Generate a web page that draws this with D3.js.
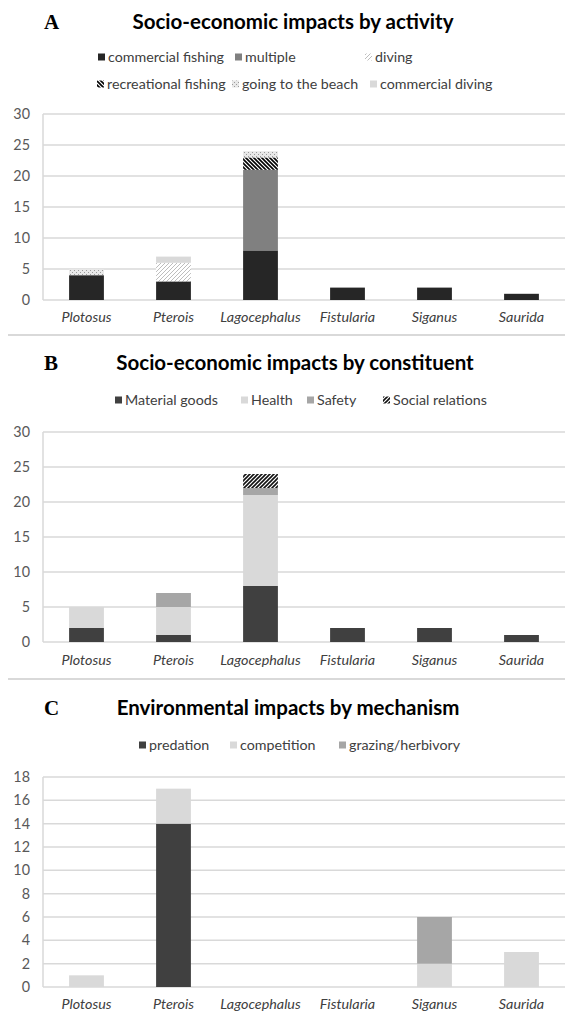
<!DOCTYPE html>
<html>
<head>
<meta charset="utf-8">
<script src="https://cdn.jsdelivr.net/npm/d3@7"></script>
<style>
  html, body { margin: 0; padding: 0; background: #fff; }
  svg { display: block; }
</style>
</head>
<body>
<div id="chart"></div>
<script>
// species on the x axis (same for all three panels)
var species = ['Plotosus', 'Pterois', 'Lagocephalus', 'Fistularia', 'Siganus', 'Saurida'];

// A - socio-economic impacts by activity
var activityKeys = ['commercial fishing', 'multiple', 'diving', 'recreational fishing', 'going to the beach', 'commercial diving'];
var commercialFishing   = [4, 3, 8, 2, 2, 1];
var multiple            = [0, 0, 13, 0, 0, 0];
var diving              = [0, 3, 0, 0, 0, 0];
var recreationalFishing = [0, 0, 2, 0, 0, 0];
var goingToTheBeach     = [1, 0, 1, 0, 0, 0];
var commercialDiving    = [0, 1, 0, 0, 0, 0];

// B - socio-economic impacts by constituent
var constituentKeys = ['Material goods', 'Health', 'Safety', 'Social relations'];
var materialGoods   = [2, 1, 8, 2, 2, 1];
var health          = [3, 4, 13, 0, 0, 0];
var safety          = [0, 2, 1, 0, 0, 0];
var socialRelations = [0, 0, 2, 0, 0, 0];

// C - environmental impacts by mechanism
var mechanismKeys = ['predation', 'competition', 'grazing/herbivory'];
var predation   = [0, 14, 0, 0, 0, 0];
var competition = [1, 3, 0, 0, 2, 3];
var grazing     = [0, 0, 0, 0, 4, 0];

var yTicksAB = [0, 5, 10, 15, 20, 25, 30];
var yTicksC  = [0, 2, 4, 6, 8, 10, 12, 14, 16, 18];

var width = 565, height = 1012;

var svg = d3.select('#chart').append('svg')
    .attr('width', width)
    .attr('height', height);

var sansFont = 'Lato, "Open Sans", "DejaVu Sans", sans-serif';

// find a font size so a sample string gets the width it has in the picture
function fitSize(sample, target, weight, style) {
    var t = svg.append('text')
        .attr('font-family', sansFont)
        .attr('font-weight', weight || 'normal')
        .attr('font-style', style || 'normal')
        .attr('font-size', 100)
        .text(sample);
    var w = t.node().getComputedTextLength();
    t.remove();
    return 100 * target / w;
}
var titleSize  = fitSize('Socio-economic impacts by activity', 321, 'bold');
var legendSize = fitSize('commercial fishing', 116);
var labelSize  = fitSize('Plotosus', 50, 'normal', 'italic');

// fill patterns like the Excel hatches
var defs = svg.append('defs');

function stripes(id, dir, color, sw, bg) {
    var p = defs.append('pattern')
        .attr('id', id)
        .attr('patternUnits', 'userSpaceOnUse')
        .attr('width', 4).attr('height', 4);
    p.append('rect').attr('width', 4).attr('height', 4).attr('fill', bg);
    var d = dir === 'up'
        ? 'M-1,1 l2,-2 M0,4 l4,-4 M3,5 l2,-2'
        : 'M-1,3 l2,2 M0,0 l4,4 M3,-1 l2,2';
    p.append('path').attr('d', d).attr('stroke', color).attr('stroke-width', sw);
}
stripes('pat-diving', 'up', '#bdbdbd', 1, '#fff');
stripes('pat-rec', 'down', '#000', 1.6, '#fff');
stripes('pat-social', 'up', '#111', 1.6, '#fff');

var dots = defs.append('pattern')
    .attr('id', 'pat-beach')
    .attr('patternUnits', 'userSpaceOnUse')
    .attr('width', 4).attr('height', 4);
dots.append('rect').attr('width', 4).attr('height', 4).attr('fill', '#e8e8e8');
dots.append('rect').attr('x', 0).attr('y', 0).attr('width', 1).attr('height', 1).attr('fill', '#9a9a9a');
dots.append('rect').attr('x', 2).attr('y', 2).attr('width', 1).attr('height', 1).attr('fill', '#9a9a9a');

function drawPanel(cfg) {
    var g = svg.append('g');

    // panel letter + title
    g.append('text')
        .attr('x', 44).attr('y', cfg.titleY)
        .attr('dy', '0.35em')
        .attr('font-family', '"Liberation Serif", "Times New Roman", serif')
        .attr('font-weight', 'bold')
        .attr('font-size', 21)
        .attr('fill', '#000')
        .text(cfg.letter);

    g.append('text')
        .attr('x', cfg.titleX).attr('y', cfg.titleY)
        .attr('dy', '0.35em')
        .attr('text-anchor', 'middle')
        .attr('font-family', sansFont)
        .attr('font-weight', 'bold')
        .attr('font-size', titleSize)
        .attr('fill', '#000')
        .text(cfg.title);

    // legend
    cfg.keys.forEach(function(k, i) {
        var pos = cfg.legendPos[i];
        g.append('rect')
            .attr('x', pos[0]).attr('y', pos[1] - 3.5)
            .attr('width', 7).attr('height', 7)
            .attr('fill', cfg.fills[i]);
        g.append('text')
            .attr('x', pos[0] + 10).attr('y', pos[1])
            .attr('dy', '0.35em')
            .attr('font-family', sansFont)
            .attr('font-size', legendSize)
            .attr('fill', '#404040')
            .text(k);
    });

    var x = d3.scaleBand()
        .domain(species)
        .range([43, 565])
        .paddingInner(0.6)
        .paddingOuter(0.3);

    var y = d3.scaleLinear()
        .domain([0, cfg.yMax])
        .range([cfg.plotBottom, cfg.plotTop]);

    // gridlines
    g.append('g').selectAll('line')
        .data(cfg.ticks)
        .enter().append('line')
        .attr('x1', 43).attr('x2', 565)
        .attr('y1', function(d) { return y(d); })
        .attr('y2', function(d) { return y(d); })
        .attr('stroke', '#d9d9d9')
        .attr('stroke-width', 1.5);

    g.append('line')
        .attr('x1', 43).attr('x2', 43)
        .attr('y1', y(cfg.yMax)).attr('y2', y(0))
        .attr('stroke', '#d9d9d9')
        .attr('stroke-width', 1.5);

    // y tick labels
    var yAxis = d3.axisLeft(y).tickValues(cfg.ticks).tickSize(0).tickPadding(13);
    var ya = g.append('g').attr('transform', 'translate(43,0)').call(yAxis);
    ya.select('.domain').remove();
    ya.selectAll('text')
        .attr('font-family', sansFont)
        .attr('font-size', labelSize)
        .attr('fill', '#595959');

    // x labels
    var xAxis = d3.axisBottom(x).tickSize(0).tickPadding(0);
    var xa = g.append('g').attr('transform', 'translate(0,' + cfg.labelY + ')').call(xAxis);
    xa.select('.domain').remove();
    xa.selectAll('text')
        .attr('dy', '0.35em')
        .attr('font-family', sansFont)
        .attr('font-style', 'italic')
        .attr('font-size', labelSize)
        .attr('fill', '#404040');

    // stacked bars
    var rows = species.map(function(s, j) {
        var r = { species: s };
        cfg.keys.forEach(function(k, i) { r[k] = cfg.series[i][j]; });
        return r;
    });
    var stacked = d3.stack().keys(cfg.keys)(rows);

    g.append('g').selectAll('g')
        .data(stacked)
        .enter().append('g')
        .attr('fill', function(d, i) { return cfg.fills[i]; })
        .selectAll('rect')
        .data(function(d) { return d.filter(function(v) { return v[1] > v[0]; }); })
        .enter().append('rect')
        .attr('x', function(d) { return x(d.data.species); })
        .attr('width', x.bandwidth())
        .attr('y', function(d) { return y(d[1]); })
        .attr('height', function(d) { return y(d[0]) - y(d[1]); });

    if (cfg.sepY) {
        g.append('line')
            .attr('x1', 8).attr('x2', 565)
            .attr('y1', cfg.sepY).attr('y2', cfg.sepY)
            .attr('stroke', '#d9d9d9')
            .attr('stroke-width', 2);
    }
}

drawPanel({
    letter: 'A',
    title: 'Socio-economic impacts by activity',
    titleX: 293, titleY: 22,
    keys: activityKeys,
    series: [commercialFishing, multiple, diving, recreationalFishing, goingToTheBeach, commercialDiving],
    fills: ['#262626', '#808080', 'url(#pat-diving)', 'url(#pat-rec)', 'url(#pat-beach)', '#d9d9d9'],
    legendPos: [[98, 57], [235, 57], [365, 57], [97, 84], [232, 84], [370, 84]],
    yMax: 30, ticks: yTicksAB,
    plotTop: 114, plotBottom: 300, labelY: 317,
    sepY: 335
});

drawPanel({
    letter: 'B',
    title: 'Socio-economic impacts by constituent',
    titleX: 295, titleY: 363,
    keys: constituentKeys,
    series: [materialGoods, health, safety, socialRelations],
    fills: ['#404040', '#d9d9d9', '#a6a6a6', 'url(#pat-social)'],
    legendPos: [[115, 400], [241, 400], [307, 400], [383, 400]],
    yMax: 30, ticks: yTicksAB,
    plotTop: 432, plotBottom: 642, labelY: 660,
    sepY: 679
});

drawPanel({
    letter: 'C',
    title: 'Environmental impacts by mechanism',
    titleX: 288, titleY: 708,
    keys: mechanismKeys,
    series: [predation, competition, grazing],
    fills: ['#404040', '#d9d9d9', '#a6a6a6'],
    legendPos: [[139, 745], [230, 745], [339, 745]],
    yMax: 18, ticks: yTicksC,
    plotTop: 777, plotBottom: 987, labelY: 1004,
    sepY: null
});
</script>
</body>
</html>
